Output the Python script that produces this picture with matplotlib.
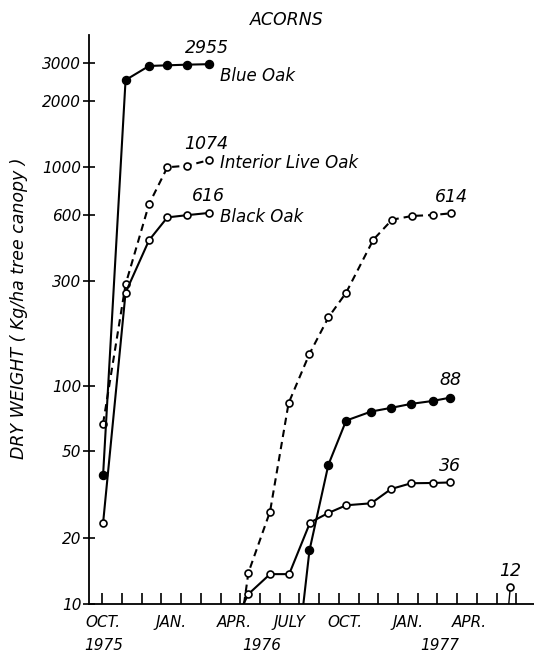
import matplotlib
matplotlib.use("Agg")
import matplotlib.pyplot as plt
from matplotlib.ticker import FixedLocator, NullLocator
import matplotlib.transforms as mtransforms

# Acorn crop accumulation, dry weight per ha of tree canopy.
# x = months elapsed since the start of October 1975.

# 1975 season
months_75 = [0.04, 1.18, 2.37, 3.30, 4.30, 5.39]
blue_oak_75 = [39, 2500, 2900, 2920, 2940, 2955]
live_oak_75 = [67, 290, 676, 997, 1014, 1074]
black_oak_75 = [23.5, 266, 462, 588, 602, 616]

# 1976 season (first entry of each list = onset, below the 10 kg floor)
live_oak_76_months = [7.19, 7.41, 8.51, 9.45, 10.50, 11.47, 12.37, 13.75, 14.70, 15.72, 16.80, 17.69]
live_oak_76 = [10, 13.9, 26.5, 83, 139, 205, 266, 465, 574, 597, 603, 614]

black_oak_76_months = [7.16, 7.41, 8.51, 9.48, 10.54, 11.47, 12.37, 13.64, 14.65, 15.67, 16.77, 17.65]
black_oak_76 = [10, 11.1, 13.7, 13.7, 23.6, 26.1, 28.3, 28.9, 33.6, 35.7, 35.8, 36]

blue_oak_76_months = [10.20, 10.51, 11.47, 12.37, 13.64, 14.65, 15.67, 16.77, 17.65]
blue_oak_76 = [10, 17.6, 43.4, 69.1, 76, 79, 82.4, 85, 88]

# 1977 season
live_oak_77_months = [20.62, 20.70]
live_oak_77 = [10, 12]

y_ticks = [10, 20, 50, 100, 300, 600, 1000, 2000, 3000]
month_label_pos = [0.05, 3.5, 6.7, 9.5, 12.3, 15.5, 18.6]
month_labels = ["OCT.", "JAN.", "APR.", "JULY", "OCT.", "JAN.", "APR."]
year_label_pos = [0.05, 8.1, 17.1]
year_labels = ["1975", "1976", "1977"]

plt.rcParams["font.family"] = ["DejaVu Sans"]
plt.rcParams["font.style"] = "italic"

W, H = 534, 652
fig = plt.figure(figsize=(W / 100, H / 100), dpi=100)
ax = fig.add_axes([89 / W, 48 / H, 445 / W, 569 / H])

lw = 1.5
dash = (0, (3.5, 2.4))
open_kw = dict(marker="o", markersize=5.0, markerfacecolor="white",
               markeredgecolor="black", markeredgewidth=1.2, color="black", lw=lw)
fill_kw = dict(marker="o", markersize=5.8, markerfacecolor="black",
               markeredgecolor="black", color="black", lw=lw)

# 1975
ax.plot(months_75, live_oak_75, linestyle=dash, zorder=3, **open_kw)
ax.plot(months_75, black_oak_75, linestyle="-", zorder=3, **open_kw)
ax.plot(months_75, blue_oak_75, linestyle="-", zorder=4, **fill_kw)

# 1976
ax.plot(live_oak_76_months, live_oak_76, linestyle=dash,
        markevery=slice(1, None), zorder=3, **open_kw)
ax.plot(black_oak_76_months, black_oak_76, linestyle="-",
        markevery=slice(1, None), zorder=3, **open_kw)
ax.plot(blue_oak_76_months, blue_oak_76, linestyle="-",
        markevery=slice(1, None), zorder=4, **fill_kw)

# 1977
ax.plot(live_oak_77_months, live_oak_77, linestyle="-",
        markevery=[1], zorder=3, **{**open_kw, "lw": 1.0})

ax.set_yscale("log")
ax.set_xlim(-0.675, 21.9)
ax.set_ylim(10, 10 ** (1 + 569 / 218.5))

for s in ("top", "right"):
    ax.spines[s].set_visible(False)
for s in ("left", "bottom"):
    ax.spines[s].set_linewidth(1.3)

ax.yaxis.set_major_locator(FixedLocator(y_ticks))
ax.yaxis.set_minor_locator(NullLocator())
ax.set_yticklabels([str(v) for v in y_ticks])
ax.tick_params(axis="y", which="major", direction="inout", length=9,
               width=1.2, pad=1, labelsize=11)

ax.xaxis.set_minor_locator(FixedLocator(range(0, 22)))
ax.tick_params(axis="x", which="minor", direction="in", length=8, width=1.2)
ax.set_xticks(month_label_pos)
ax.set_xticklabels(month_labels)
ax.tick_params(axis="x", which="major", length=0, pad=8, labelsize=11)

trans = mtransforms.blended_transform_factory(ax.transData, fig.transFigure)
for xp, lab in zip(year_label_pos, year_labels):
    ax.text(xp, 1 - 645 / H, lab, transform=trans, ha="center", va="center",
            fontsize=11, clip_on=False)

# final values above the last point of each series
value_kw = dict(textcoords="offset points", ha="center", va="center", fontsize=12.5)
ax.annotate("2955", (months_75[-1], blue_oak_75[-1]), xytext=(-1.5, 12), **value_kw)
ax.annotate("1074", (months_75[-1], live_oak_75[-1]), xytext=(-1.5, 12), **value_kw)
ax.annotate("616", (months_75[-1], black_oak_75[-1]), xytext=(0, 12.5), **value_kw)
ax.annotate("614", (live_oak_76_months[-1], live_oak_76[-1]), xytext=(0.5, 12), **value_kw)
ax.annotate("88", (blue_oak_76_months[-1], blue_oak_76[-1]), xytext=(0, 12.5), **value_kw)
ax.annotate("36", (black_oak_76_months[-1], black_oak_76[-1]), xytext=(0, 12), **value_kw)
ax.annotate("12", (live_oak_77_months[-1], live_oak_77[-1]), xytext=(0, 11), **value_kw)

# species names
name_kw = dict(textcoords="offset points", ha="left", va="center", fontsize=12)
ax.annotate("Blue Oak", (months_75[-1], blue_oak_75[-1]), xytext=(8, -8.5), **name_kw)
ax.annotate("Interior Live Oak", (months_75[-1], live_oak_75[-1]), xytext=(8.5, -1.8), **name_kw)
ax.annotate("Black Oak", (months_75[-1], black_oak_75[-1]), xytext=(8.5, -2.7), **name_kw)

fig.text(287 / W, 1 - 20 / H, "ACORNS", ha="center", va="center", fontsize=12.5)
fig.text(19 / W, 1 - 308 / H, "DRY WEIGHT ( Kg/ha tree canopy )", rotation=90,
         ha="center", va="center", fontsize=12.5)

fig.savefig("out.png", dpi=100)
